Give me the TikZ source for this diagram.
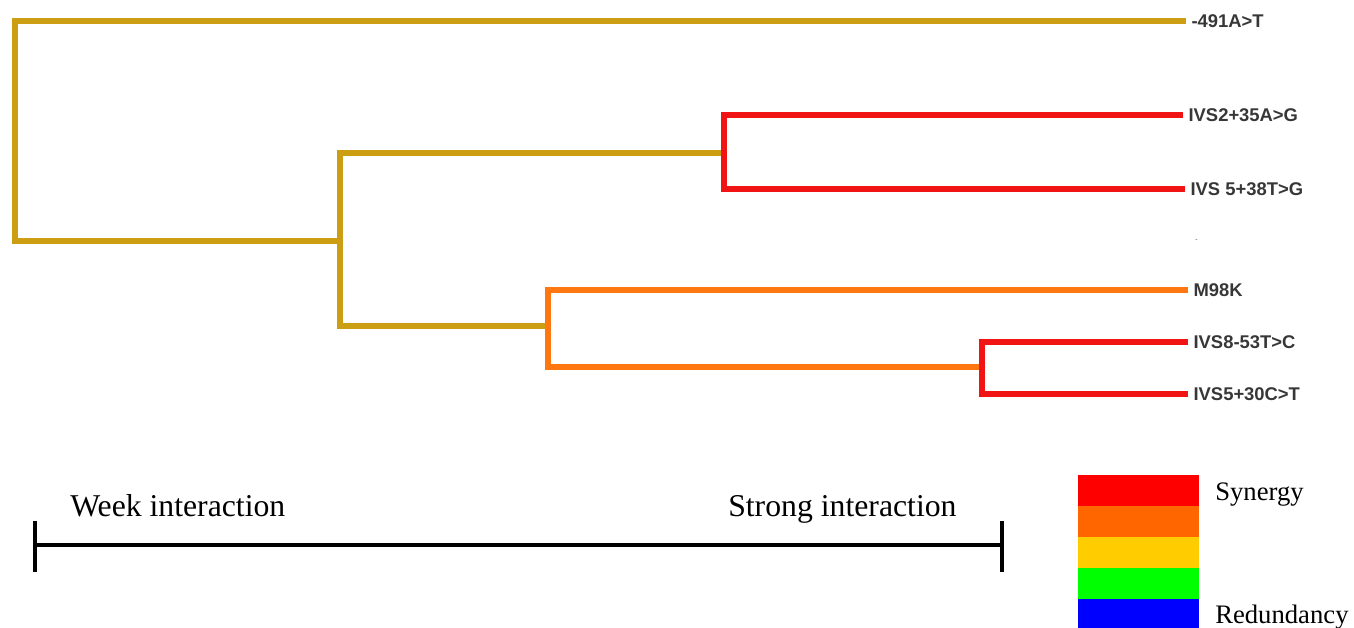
\documentclass[tikz,border=0pt]{standalone}
\usepackage{fontspec}
\setmainfont{Liberation Serif}
\newfontfamily\labfont{Liberation Sans}
\definecolor{treegold}{RGB}{204,158,20}
\definecolor{treeorange}{RGB}{255,119,17}
\definecolor{treered}{RGB}{240,20,20}
\definecolor{labgray}{RGB}{55,55,55}
\definecolor{legred}{RGB}{255,0,0}
\definecolor{legorange}{RGB}{255,102,0}
\definecolor{legyellow}{RGB}{255,204,0}
\definecolor{leggreen}{RGB}{0,255,0}
\definecolor{legblue}{RGB}{0,0,255}
\tikzset{
  branch/.style={line width=3.8pt, line join=miter},
  leaflab/.style={anchor=west, inner xsep=4pt, inner ysep=0pt, font=\labfont\bfseries\fontsize{13.8}{16}\selectfont, text=labgray},
  scalelab/.style={anchor=base west, inner sep=0pt, font=\fontsize{23.8}{28}\selectfont},
  leglab/.style={anchor=base west, inner sep=0pt, font=\fontsize{20}{24}\selectfont},
  scalebar/.style={line width=3.2pt, black},
  legbox/.style={draw=none}
}
\begin{document}
\begin{tikzpicture}[x=0.75pt,y=-0.75pt]
\useasboundingbox (0,0) rectangle (1354,628);
% leaf labels
\node[leaflab] (la) at (1186,21) {-491A>T};
\node[leaflab] (lb) at (1183,115) {IVS2+35A>G};
\node[leaflab] (lc) at (1185,189) {IVS 5+38T>G};
\node[leaflab] (ld) at (1188,290) {M98K};
\node[leaflab] (le) at (1188,342) {IVS8-53T>C};
\node[leaflab] (lf) at (1188,394) {IVS5+30C>T};
\node[anchor=west, inner sep=0pt, text=labgray, font=\labfont\fontsize{5}{6}\selectfont] (dot) at (1195,240) {-};
% internal nodes
\coordinate (r)  at (15,241);
\coordinate (n1) at (340,241);
\coordinate (n2) at (724,153);
\coordinate (n3) at (548,326);
\coordinate (n4) at (982,367);
% branches
\draw[branch, treegold] (la.west) -| (r) -- (n1);
\draw[branch, treegold] (n1) |- (n2);
\draw[branch, treegold] (n1) |- (n3);
\draw[branch, treered] (lb.west) -| (n2) |- (lc.west);
\draw[branch, treeorange] (ld.west) -| (n3) |- (n4);
\draw[branch, treered] (le.west) -| (n4) |- (lf.west);
% scale bar
\coordinate (sl) at (35,545);
\coordinate (sr) at (1002,545);
\draw[scalebar] (sl) -- (sr);
\draw[scalebar] ([yshift=-20]sl) -- ([yshift=18]sl);
\draw[scalebar] ([yshift=-20]sr) -- ([yshift=18]sr);
\node[scalelab] (weak) at (70,516) {Week interaction};
\node[scalelab] (strong) at (728,516) {Strong interaction};
% legend
\fill[legred]    (1078,475) rectangle (1199,507);
\fill[legorange] (1078,506) rectangle (1199,538);
\fill[legyellow] (1078,537) rectangle (1199,569);
\fill[leggreen]  (1078,568) rectangle (1199,600);
\fill[legblue]   (1078,599) rectangle (1199,628);
\node[leglab] (syn) at (1215,500) {Synergy};
\node[leglab] (red) at (1215,623) {Redundancy};
\end{tikzpicture}
\end{document}
